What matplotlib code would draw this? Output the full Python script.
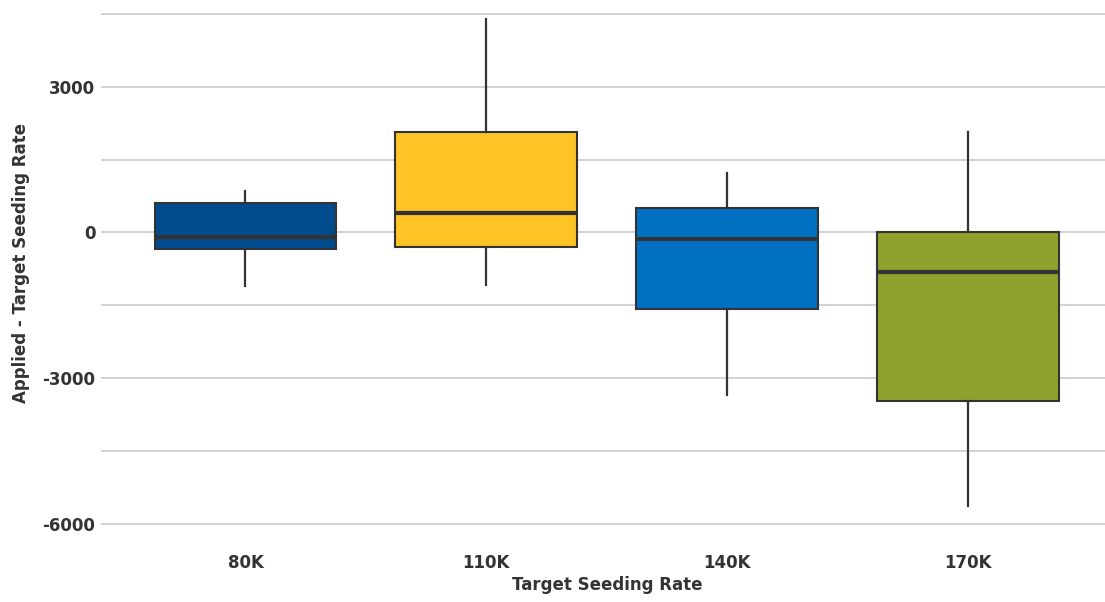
import matplotlib.pyplot as plt
from matplotlib.ticker import MultipleLocator

# values
rates = ["80K", "110K", "140K", "170K"]
whisker_low = [-1100, -1090, -3350, -5630]
q1 = [-350, -300, -1580, -3470]
median = [-100, 400, -140, -810]
q3 = [600, 2070, 500, 0]
whisker_high = [850, 4390, 1215, 2060]
box_colors = ["#004B8D", "#FEC325", "#0070C2", "#8FA12C"]

plt.rcParams['font.family'] = ['DejaVu Sans']
plt.rcParams['axes.unicode_minus'] = False

fig = plt.figure(figsize=(11.05, 6.02), dpi=100)
ax = fig.add_axes([0.0914, 0.1196, 0.9154, 0.8887])

stats = []
for i in range(len(rates)):
    stats.append({
        "label": rates[i],
        "whislo": whisker_low[i],
        "q1": q1[i],
        "med": median[i],
        "q3": q3[i],
        "whishi": whisker_high[i],
    })

bp = ax.bxp(stats, positions=range(len(rates)), widths=0.755, patch_artist=True,
            showfliers=False, showcaps=False,
            boxprops=dict(edgecolor="#333333", linewidth=1.5),
            medianprops=dict(color="#333333", linewidth=3),
            whiskerprops=dict(color="#333333", linewidth=1.6),
            zorder=3)
for patch, c in zip(bp["boxes"], box_colors):
    patch.set_facecolor(c)

ax.set_xlim(-0.6, 3.6)
ax.set_ylim(-6133, 4889)
ax.yaxis.set_major_locator(MultipleLocator(3000))
ax.yaxis.set_minor_locator(MultipleLocator(1500))
ax.grid(axis="y", which="both", color="#d2d2d2", linewidth=1.4, zorder=0)
ax.set_axisbelow(True)

for s in ax.spines.values():
    s.set_visible(False)
ax.tick_params(axis="both", which="both", length=0, labelsize=12, labelcolor="#333333")
ax.tick_params(axis="y", pad=4)
ax.tick_params(axis="x", pad=17)
for lbl in ax.get_xticklabels() + ax.get_yticklabels():
    lbl.set_fontweight("bold")

ax.set_xlabel("Target Seeding Rate", fontsize=12, fontweight="bold", color="#333333", labelpad=3)
ax.set_ylabel("Applied - Target Seeding Rate", fontsize=12, fontweight="bold", color="#333333", labelpad=9)

fig.savefig("out.png", dpi=100, facecolor="white")
